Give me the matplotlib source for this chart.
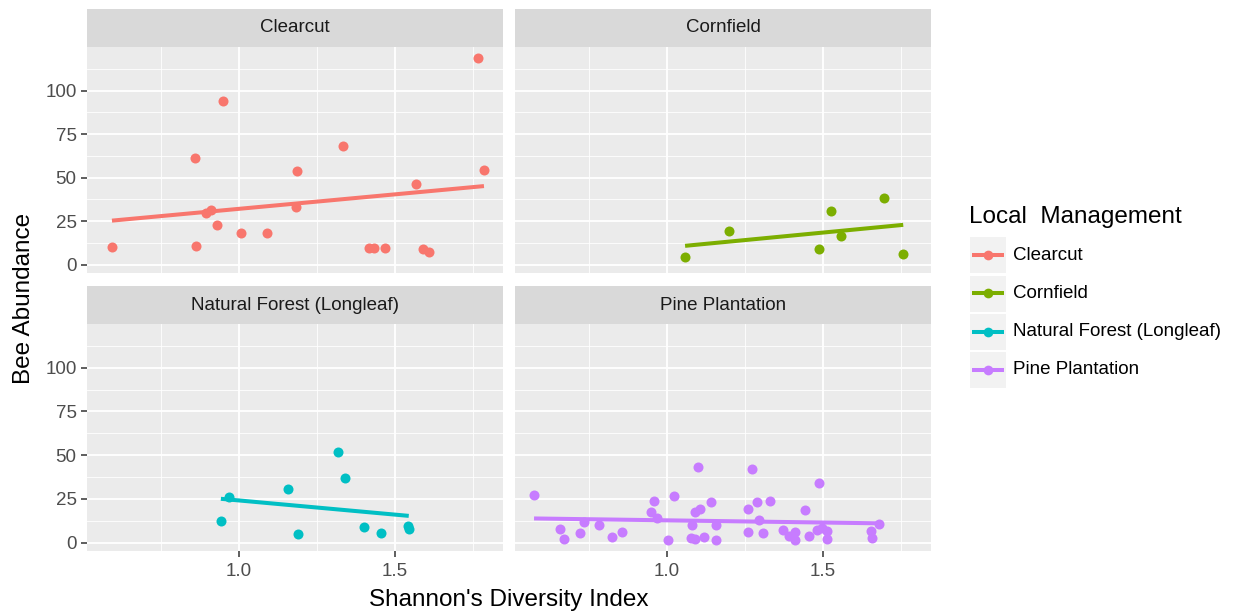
import numpy as np
import matplotlib
matplotlib.use("Agg")
import matplotlib.pyplot as plt
from matplotlib.lines import Line2D
from matplotlib.patches import Rectangle

plt.rcParams["font.family"] = ["Liberation Sans", "DejaVu Sans"]

# ---------------------------------------------------------------------------
# data (Shannon index, bee abundance)
# ---------------------------------------------------------------------------
clearcut_x = [0.593, 0.860, 0.861, 0.893, 0.909, 0.929, 0.949, 1.006, 1.091, 1.186,
              1.182, 1.332, 1.418, 1.433, 1.468, 1.566, 1.591, 1.608, 1.767, 1.785]
clearcut_y = [9.9, 61.3, 10.9, 29.5, 31.4, 22.9, 94.1, 18.1, 17.9, 53.7,
              33.0, 68.2, 9.3, 9.5, 9.3, 46.5, 8.8, 7.2, 118.7, 54.5]

cornfield_x = [1.058, 1.198, 1.488, 1.524, 1.559, 1.694, 1.757]
cornfield_y = [4.6, 19.4, 9.1, 31.0, 16.6, 38.5, 5.9]

forest_x = [0.942, 0.969, 1.158, 1.190, 1.317, 1.341, 1.400, 1.455, 1.543, 1.544]
forest_y = [12.6, 25.9, 30.6, 4.9, 51.7, 37.1, 9.0, 5.7, 9.4, 7.8]

pine_x = [0.574, 0.657, 0.670, 0.721, 0.735, 0.783, 0.823, 0.855, 0.957, 0.948,
          0.967, 1.004, 1.022, 1.100, 1.091, 1.105, 1.140, 1.080, 1.077, 1.090,
          1.119, 1.157, 1.158, 1.272, 1.287, 1.329, 1.261, 1.294, 1.260, 1.308,
          1.371, 1.390, 1.411, 1.411, 1.441, 1.486, 1.456, 1.480, 1.496, 1.512,
          1.512, 1.654, 1.656, 1.679]
pine_y = [27.0, 8.0, 1.9, 5.5, 11.8, 9.8, 3.0, 6.3, 23.6, 17.6,
          13.8, 1.3, 26.6, 43.4, 17.4, 19.3, 23.2, 10.1, 2.9, 1.9,
          3.0, 10.1, 1.7, 42.1, 23.2, 23.7, 19.0, 13.2, 5.9, 5.5,
          7.1, 3.6, 5.9, 1.3, 18.4, 34.1, 3.8, 7.1, 8.6, 6.7,
          2.1, 6.7, 2.9, 10.7]

groups = ["Clearcut", "Cornfield", "Natural Forest (Longleaf)", "Pine Plantation"]
colors = ["#F8766D", "#7CAE00", "#00BFC4", "#C77CFF"]
series = [(clearcut_x, clearcut_y), (cornfield_x, cornfield_y),
          (forest_x, forest_y), (pine_x, pine_y)]

y_ticks = [0, 25, 50, 75, 100]
y_minor = [12.5, 37.5, 62.5, 87.5, 112.5]
x_ticks = [1.0, 1.5]
x_minor = [0.75, 1.25, 1.75]

# ---------------------------------------------------------------------------
W, H = 1238, 611
fig = plt.figure(figsize=(W / 100, H / 100), dpi=100)


def px_box(x0, y0, x1, y1):
    return [x0 / W, 1 - y1 / H, (x1 - x0) / W, (y1 - y0) / H]


panel_cols = [(87, 503), (515, 931)]
panel_rows = [(47, 273), (324, 551)]
strip_rows = [(9, 47), (286, 324)]

grey_txt = "#4D4D4D"

for k, (name, col, (xs, ys)) in enumerate(zip(groups, colors, series)):
    r, c = divmod(k, 2)
    x0, x1 = panel_cols[c]
    y0, y1 = panel_rows[r]
    ax = fig.add_axes(px_box(x0, y0, x1, y1))
    ax.set_facecolor("#EBEBEB")
    for s in ax.spines.values():
        s.set_visible(False)
    ax.set_xlim(0.513, 1.846)
    ax.set_ylim(-4.8, 125)

    for v in y_minor:
        ax.axhline(v, color="white", lw=0.6, zorder=0)
    for v in y_ticks:
        ax.axhline(v, color="white", lw=1.3, zorder=0)
    for v in x_minor:
        ax.axvline(v, color="white", lw=0.6, zorder=0)
    for v in x_ticks:
        ax.axvline(v, color="white", lw=1.3, zorder=0)

    ax.set_yticks(y_ticks)
    ax.set_xticks(x_ticks)
    ax.tick_params(colors="#333333", length=4, width=1.1, labelsize=13.5,
                   labelcolor=grey_txt)
    ax.tick_params(axis="y", pad=3.5)
    ax.tick_params(axis="x", pad=5)
    if c == 1:
        ax.tick_params(axis="y", left=False, labelleft=False)
    else:
        ax.set_yticklabels([str(v) for v in y_ticks])
    if r == 0:
        ax.tick_params(axis="x", bottom=False, labelbottom=False)
    else:
        ax.set_xticklabels(["%.1f" % v for v in x_ticks])

    ax.scatter(xs, ys, s=52, color=col, linewidths=0, zorder=3)
    # linear fit, as geom_smooth(method = "lm", se = FALSE)
    b, a = np.polyfit(xs, ys, 1)
    xl = np.array([min(xs), max(xs)])
    ax.plot(xl, a + b * xl, color=col, lw=2.9, solid_capstyle="butt", zorder=4)

    sx0, sy0 = panel_cols[c][0], strip_rows[r][0]
    sx1, sy1 = panel_cols[c][1], strip_rows[r][1]
    sax = fig.add_axes(px_box(sx0, sy0, sx1, sy1))
    sax.set_facecolor("#D9D9D9")
    sax.set_xticks([])
    sax.set_yticks([])
    for s in sax.spines.values():
        s.set_visible(False)
    sax.text(0.5, 0.5, name, ha="center", va="center", fontsize=13.5,
             color="#1A1A1A", transform=sax.transAxes)

fig.text(509 / W, 1 - 600 / H, "Shannon's Diversity Index", ha="center",
         va="center", fontsize=17.5, color="black")
fig.text(24 / W, 1 - 298 / H, "Bee Abundance", ha="center", va="center",
         rotation=90, fontsize=17.5, color="black")

# legend
fig.text(969 / W, 1 - 217 / H, "Local  Management", ha="left", va="center",
         fontsize=17.5, color="black")
key_top = [237, 275.5, 314, 352]
for name, col, kt in zip(groups, colors, key_top):
    fig.patches.append(Rectangle((970 / W, 1 - (kt + 36) / H), 36 / W, 36 / H,
                                 transform=fig.transFigure, facecolor="#F2F2F2",
                                 edgecolor="none"))
    yc = 1 - (kt + 18) / H
    fig.lines.append(Line2D([972 / W, 1004 / W], [yc, yc], transform=fig.transFigure,
                            color=col, lw=2.9, solid_capstyle="butt"))
    fig.lines.append(Line2D([988 / W], [yc], transform=fig.transFigure, color=col,
                            marker="o", markersize=7, markeredgewidth=0, lw=0))
    fig.text(1013 / W, yc, name, ha="left", va="center", fontsize=13.5,
             color="black")

fig.savefig("out.png", dpi=100)
